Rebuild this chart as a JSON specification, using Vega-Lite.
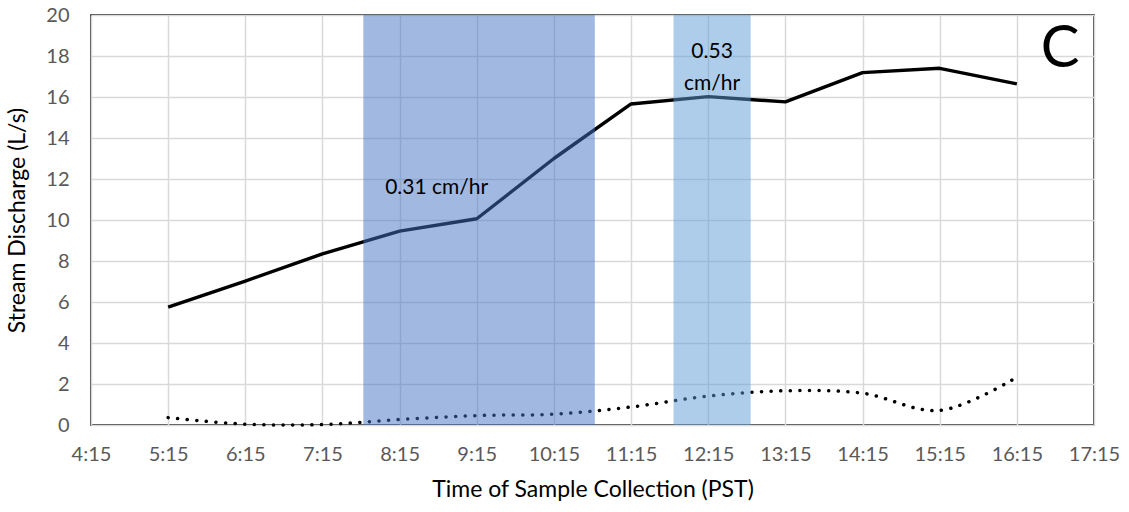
{
  "$schema": "https://vega.github.io/schema/vega-lite/v6.json",
  "autosize": "none",
  "width": 1003,
  "height": 410,
  "padding": {"left": 91, "top": 15, "right": 35, "bottom": 87},
  "background": "white",
  "config": {
    "font": "Lato",
    "view": {"stroke": "black", "strokeWidth": 1.5},
    "axis": {
      "gridColor": "#D9D9D9",
      "gridWidth": 1.5,
      "domain": false,
      "ticks": false,
      "labelOverlap": false,
      "labelFlush": false,
      "labelBound": false,
      "labelFont": "Lato",
      "labelFontSize": 20,
      "labelColor": "#595959",
      "titleFont": "Lato",
      "titleFontSize": 23,
      "titleFontWeight": "normal",
      "titleColor": "black"
    }
  },
  "datasets": {
    "flow": [
      {"t": 5.25, "q": 5.75},
      {"t": 6.25, "q": 7.02},
      {"t": 7.25, "q": 8.35},
      {"t": 8.25, "q": 9.46},
      {"t": 9.25, "q": 10.06},
      {"t": 10.25, "q": 13.0},
      {"t": 11.25, "q": 15.66},
      {"t": 12.25, "q": 16.02},
      {"t": 13.25, "q": 15.76},
      {"t": 14.25, "q": 17.19},
      {"t": 15.25, "q": 17.4},
      {"t": 16.25, "q": 16.64}
    ],
    "other": [
      {"t": 5.25, "q": 0.36},
      {"t": 6.25, "q": 0.04},
      {"t": 7.25, "q": 0.02},
      {"t": 8.25, "q": 0.27},
      {"t": 9.25, "q": 0.46},
      {"t": 10.25, "q": 0.53},
      {"t": 11.25, "q": 0.88},
      {"t": 12.25, "q": 1.41},
      {"t": 13.25, "q": 1.67},
      {"t": 14.25, "q": 1.55},
      {"t": 15.25, "q": 0.71},
      {"t": 16.25, "q": 2.33}
    ],
    "bands": [
      {"start": 7.78, "end": 10.78, "lo": 0, "hi": 20, "rate": "first"},
      {"start": 11.8, "end": 12.8, "lo": 0, "hi": 20, "rate": "second"}
    ],
    "labels": [
      {"t": 8.73, "q": 11.56, "label": "0.31 cm/hr", "kind": "note"},
      {"t": 12.3, "q": 18.2, "label": "0.53", "kind": "note"},
      {"t": 12.3, "q": 16.62, "label": "cm/hr", "kind": "note"},
      {"t": 16.81, "q": 18.3, "label": "C", "kind": "panel"}
    ]
  },
  "encoding": {
    "x": {
      "field": "t",
      "type": "quantitative",
      "scale": {"domain": [4.25, 17.25], "nice": false, "zero": false},
      "axis": {
        "title": "Time of Sample Collection (PST)",
        "values": [4.25, 5.25, 6.25, 7.25, 8.25, 9.25, 10.25, 11.25, 12.25, 13.25, 14.25, 15.25, 16.25, 17.25],
        "labelExpr": "floor(datum.value) + ':15'",
        "labelPadding": 19,
        "titlePadding": 14
      }
    },
    "y": {
      "field": "q",
      "type": "quantitative",
      "scale": {"domain": [0, 20], "nice": false},
      "axis": {
        "title": "Stream Discharge (L/s)",
        "values": [0, 2, 4, 6, 8, 10, 12, 14, 16, 18, 20],
        "labelPadding": 22,
        "titlePadding": 16
      }
    }
  },
  "layer": [
    {
      "data": {"name": "flow"},
      "mark": {"type": "line", "color": "black", "strokeWidth": 3.4, "strokeJoin": "round"}
    },
    {
      "data": {"name": "other"},
      "mark": {"type": "line", "color": "black", "strokeWidth": 3.5, "strokeCap": "round", "strokeDash": [0.1, 9.5], "interpolate": "catmull-rom"}
    },
    {
      "data": {"name": "bands"},
      "mark": {"type": "rect", "opacity": 0.5},
      "encoding": {
        "x": {"field": "start", "type": "quantitative"},
        "x2": {"field": "end"},
        "y": {"field": "lo", "type": "quantitative"},
        "y2": {"field": "hi"},
        "color": {
          "field": "rate",
          "type": "nominal",
          "scale": {"domain": ["first", "second"], "range": ["#4472C4", "#5B9BD5"]},
          "legend": null
        }
      }
    },
    {
      "data": {"name": "labels"},
      "mark": {"type": "text", "font": "Lato", "color": "black", "align": "center", "baseline": "middle"},
      "encoding": {
        "text": {"field": "label"},
        "size": {
          "field": "kind",
          "type": "nominal",
          "scale": {"domain": ["note", "panel"], "range": [21, 58]},
          "legend": null
        }
      }
    }
  ]
}
